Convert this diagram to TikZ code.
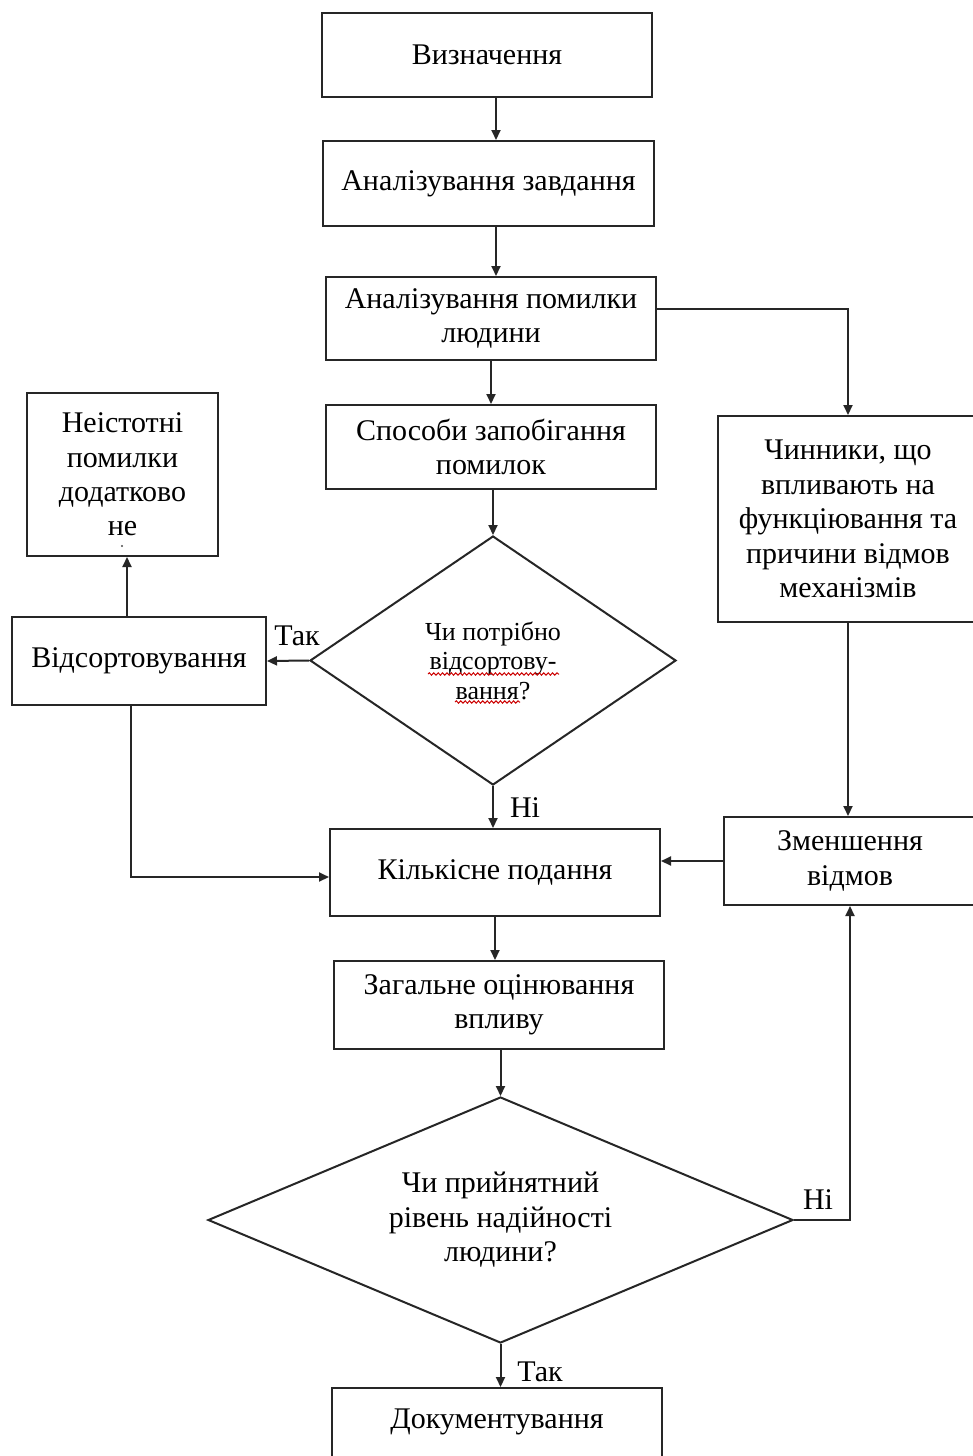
\documentclass[tikz,border=0pt]{standalone}
\usepackage{fontspec}
\setmainfont{Liberation Serif}
\usetikzlibrary{arrows.meta,shapes.geometric,decorations.pathmorphing}
\begin{document}
\begin{tikzpicture}[x=0.5pt,y=-0.5pt,
  box/.style={draw=black!85,line width=1pt,rectangle,inner sep=0pt,align=center,font=\fontsize{15}{17.2}\selectfont},
  dia/.style={draw=black!85,line width=1pt,diamond,inner sep=0pt,align=center},
  arr/.style={draw=black!85,line width=1pt,-{Triangle[length=5pt,width=4.5pt]}},
  lbl/.style={font=\fontsize{15}{17.2}\selectfont,inner sep=0pt},
  wavy/.style={draw=red!80!black,line width=0.5pt,decorate,decoration={snake,segment length=2.2pt,amplitude=0.6pt}}]
\useasboundingbox (0,0) rectangle (973,1456);
\fill[white] (0,0) rectangle (973,1456);
\clip (0,0) rectangle (973,1456);

% boxes
\node[box,minimum width=165pt,minimum height=42pt] (b1) at (487,55) {Визначення};
\node[box,minimum width=165.5pt,minimum height=42.5pt] (b2) at (488.5,183.5) {Аналізування завдання};
\node[box,minimum width=165pt,minimum height=41.5pt] (b3) at (491,318.5) {Аналізування помилки\\людини};
\node[box,minimum width=165pt,minimum height=42pt] (b4) at (491,447) {Способи запобігання\\помилок};
\node[dia,aspect=1.47,minimum width=183pt,minimum height=124.5pt,font=\fontsize{13}{14.7}\selectfont] (d1) at (493,660.5) {Чи потрібно\\відсортову-\\вання?};
\node[box,minimum width=127pt,minimum height=44pt] (sort) at (139,661) {Відсортовування};
\node[box,minimum width=95.5pt,minimum height=81.5pt] (nei) at (122.5,474.5) {Неістотні\\помилки\\додатково\\не};
\node[box,minimum width=130pt,minimum height=103pt] (chin) at (848,519) {Чинники, що\\впливають на\\функціювання та\\причини відмов\\механізмів};
\node[box,minimum width=126pt,minimum height=44pt] (zm) at (850,861) {Зменшення\\відмов};
\node[box,minimum width=165pt,minimum height=43.5pt] (kil) at (495,872.5) {Кількісне подання};
\node[box,minimum width=165pt,minimum height=44pt] (zag) at (499,1005) {Загальне оцінювання\\впливу};
\node[dia,aspect=2.38,minimum width=292.5pt,minimum height=123pt,font=\fontsize{15}{17.2}\selectfont] (d2) at (500.5,1220) {Чи прийнятний\\рівень надійності\\людини?};
\node[box,minimum width=165pt,minimum height=46pt] (doc) at (497,1434) {};
\node[lbl] (doctext) at (497,1422) {Документування};

% small artefacts
\fill[black!70] (122,546) circle (0.6pt);
\draw[wavy] (428,674) -- (559,674);
\draw[wavy] (455,702) -- (520,702);

% connectors
\draw[arr] ([xshift=4.5pt]b1.south) -- ([xshift=3.75pt]b2.north);
\draw[arr] ([xshift=3.75pt]b2.south) -- ([xshift=2.5pt]b3.north);
\draw[arr] (b3.south) -- (b4.north);
\draw[arr] (b4.south -| d1.north) -- (d1.north);
\draw[arr] ([yshift=4.75pt]b3.east) -| (chin.north);
\draw[arr] (d1.west) -- (sort.east);
\draw[arr] ([xshift=-6pt]sort.north) -- ([xshift=-6pt]sort.north |- nei.south);
\draw[arr] ([xshift=-4pt]sort.south) |- ([yshift=-2.25pt]kil.west);
\draw[arr] (d1.south) -- (d1.south |- kil.north);
\draw[arr] (chin.south) -- (chin.south |- zm.north);
\draw[arr] (zm.west) -- (zm.west -| kil.east);
\draw[arr] (kil.south) -- (kil.south |- zag.north);
\draw[arr] (zag.south -| d2.north) -- (d2.north);
\draw[arr] (d2.east) -| (zm.south);
\draw[arr] (d2.south) -- (d2.south |- doc.north);

% labels
\node[lbl] (l1) at (297,636) {Так};
\node[lbl] (l2) at (525,808) {Ні};
\node[lbl] (l3) at (818,1200) {Ні};
\node[lbl] (l4) at (540,1372) {Так};
\end{tikzpicture}
\end{document}
